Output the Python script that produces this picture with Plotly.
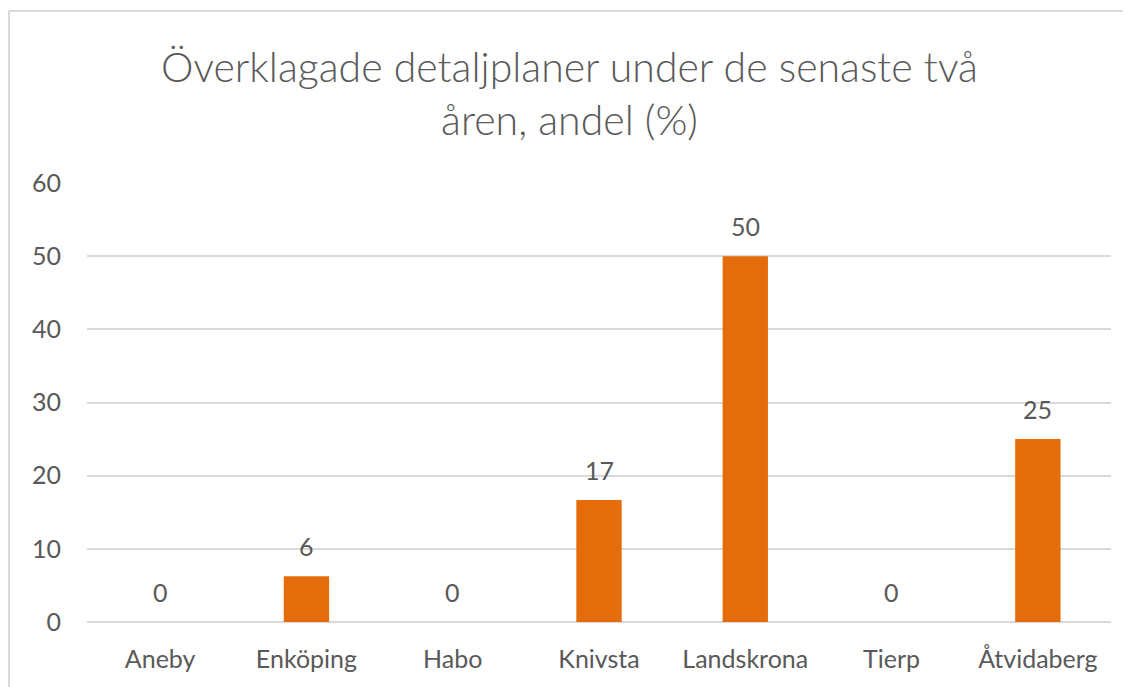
import plotly.graph_objects as go

categories = ["Aneby", "Enköping", "Habo", "Knivsta", "Landskrona", "Tierp", "Åtvidaberg"]
values = [0, 6.25, 0, 16.67, 50, 0, 25]
labels = ["0", "6", "0", "17", "50", "0", "25"]
y_ticks = [0, 10, 20, 30, 40, 50, 60]

FONT = "Lato"
GRAY = "#595959"
ORANGE = "#E46C0A"
GRID = "#D9D9D9"

fig = go.Figure()
fig.add_trace(go.Bar(
    x=categories, y=values,
    marker=dict(color=ORANGE, line=dict(width=0)),
    width=0.31,
    hoverinfo="skip",
))

for c, v, t in zip(categories, values, labels):
    fig.add_annotation(x=c, y=v, text=t, showarrow=False, yanchor="bottom",
                       yshift=13, font=dict(family=FONT, size=25, color=GRAY))

fig.update_layout(
    width=1123, height=679,
    margin=dict(l=79, r=20, t=175, b=65),
    paper_bgcolor="white", plot_bgcolor="white",
    showlegend=False,
    title=dict(text="Överklagade detaljplaner under de senaste två<br>åren, andel (%)",
               x=0.5, xanchor="center", yref="container", y=0.891, yanchor="middle",
               font=dict(family="Lato Light, Lato", size=41, color=GRAY)),
    xaxis=dict(showgrid=False, showline=False, ticks="", ticklabelstandoff=20,
               tickfont=dict(family=FONT, size=25, color=GRAY)),
    yaxis=dict(range=[0, 60], tickvals=y_ticks, showgrid=True, gridcolor=GRID,
               gridwidth=1.5, zeroline=True, zerolinecolor=GRID, zerolinewidth=1.5,
               showline=False, ticks="", ticklabelstandoff=25,
               tickfont=dict(family=FONT, size=25, color=GRAY)),
    shapes=[
        dict(type="line", xref="paper", yref="paper",
             x0=-0.0762, x1=-0.0762, y0=-0.5, y1=1.392,
             line=dict(color=GRID, width=2), layer="below"),
        dict(type="line", xref="paper", yref="paper",
             x0=-0.0762, x1=1.5, y0=1.392, y1=1.392,
             line=dict(color=GRID, width=2), layer="below"),
    ],
)

fig.write_html("out.html")
